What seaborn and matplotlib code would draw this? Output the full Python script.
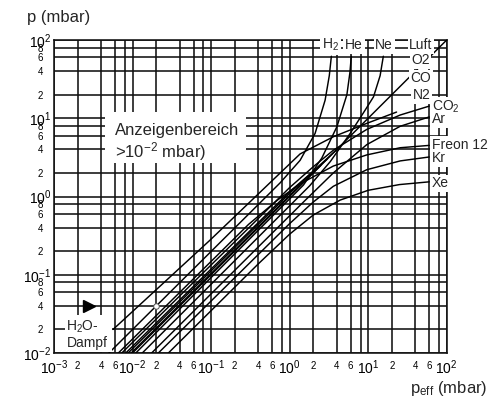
import matplotlib
matplotlib.use("Agg")
import matplotlib.pyplot as plt
import matplotlib.patches as mpatches
import seaborn as sns
import pandas as pd

# ---------------- data ----------------
h2_x = [0.005, 0.76, 1.36, 2.11, 2.83, 3.2, 3.4]
h2_y = [0.01, 1.5, 2.9, 6.4, 17, 35, 62]
he_x = [0.011, 1.5, 2.57, 4.0, 5.36, 5.85, 6.1]
he_y = [0.01, 1.4, 3.1, 7.8, 20, 38, 62]
ne_x = [0.0133, 1.8, 3.3, 5.9, 9.2, 11.7, 14.2, 15.6]
ne_y = [0.01, 1.37, 2.8, 6.4, 12.8, 18.8, 35, 62]
luft_x = [0.01, 100]
luft_y = [0.01, 100]
o2_x = [0.0088, 1.0, 4.0]
o2_y = [0.01, 1.1, 4.0]
co_x = [0.0082, 1.0, 3.0]
co_y = [0.01, 1.15, 3.0]
n2_x = [0.0096, 1.0, 2.5]
n2_y = [0.01, 1.03, 2.5]
co2_x = [0.0073, 1.0, 2.0, 3.6, 9.6, 25.6, 60]
co2_y = [0.01, 1.3, 2.4, 3.9, 7.2, 11, 14.3]
ar_x = [0.0175, 1.5, 3.6, 9.6, 25.6, 60]
ar_y = [0.01, 0.85, 2.0, 4.6, 7.9, 10.4]
freon_x = [0.0066, 0.3, 0.7, 1.36, 3.6, 9.6, 25.6, 60]
freon_y = [0.01, 0.44, 0.9, 1.45, 2.45, 3.4, 4.2, 4.5]
kr_x = [0.0213, 1.0, 2.0, 3.6, 9.6, 25.6, 60]
kr_y = [0.01, 0.45, 0.85, 1.35, 2.2, 2.85, 3.2]
xe_x = [0.0286, 0.4, 1.0, 2.0, 4.4, 10, 25, 60]
xe_y = [0.01, 0.138, 0.33, 0.58, 0.9, 1.2, 1.42, 1.54]
h2o_x = [0.00565, 0.097, 1.36, 3.6, 9.6, 23]
h2o_y = [0.02, 0.277, 3.5, 5.8, 8.6, 12]

marker_x = [2.8e-3]
marker_y = [4e-2]
circle_x = [2e-2]
circle_y = [4e-2]

x_major = [1e-3, 1e-2, 1e-1, 1e0, 1e1, 1e2]
x_major_labels = [r'$10^{-3}$', r'$10^{-2}$', r'$10^{-1}$', r'$10^{0}$', r'$10^{1}$', r'$10^{2}$']
y_major = [1e-2, 1e-1, 1e0, 1e1, 1e2]
y_major_labels = [r'$10^{-2}$', r'$10^{-1}$', r'$10^{0}$', r'$10^{1}$', r'$10^{2}$']
minor_mult = [2, 4, 6, 8]
x_minor_text = ['2', '4', '6', '']
y_minor_text = ['2', '4', '6', '8']

gas_curves = {
    'H2': (h2_x, h2_y), 'He': (he_x, he_y), 'Ne': (ne_x, ne_y),
    'Luft': (luft_x, luft_y), 'O2': (o2_x, o2_y), 'CO': (co_x, co_y),
    'N2': (n2_x, n2_y), 'CO2': (co2_x, co2_y), 'Ar': (ar_x, ar_y),
    'Freon 12': (freon_x, freon_y), 'Kr': (kr_x, kr_y), 'Xe': (xe_x, xe_y),
    'H2O': (h2o_x, h2o_y),
}

# label texts and anchor positions (data coords, left-center)
label_text = [r'H$_2$', 'He', 'Ne', 'Luft', 'O2', 'CO', 'N2', r'CO$_2$', 'Ar', 'Freon 12', 'Kr', 'Xe']
label_x = [2.57, 5.09, 12.3, 33.3, 35.3, 34.3, 37.1, 64.7, 64.7, 64.7, 64.7, 64.7]
label_y = [85.9, 85.9, 85.9, 85.9, 55.2, 32.5, 19.7, 13.9, 9.74, 4.53, 3.09, 1.48]

# ---------------- styling ----------------
sns.set_style('white')
plt.rcParams['font.family'] = ['Liberation Sans', 'DejaVu Sans']
plt.rcParams['mathtext.default'] = 'regular'

W, H = 494, 405
fig = plt.figure(figsize=(W / 100, H / 100), dpi=100)
L, R, T, B = 54, 446.7, 40, 353
ax = fig.add_axes([L / W, 1 - B / H, (R - L) / W, (B - T) / H])
ax.set_xscale('log')
ax.set_yscale('log')

rows = []
for gas, (xs, ys) in gas_curves.items():
    for xv, yv in zip(xs, ys):
        rows.append({'gas': gas, 'p_eff': xv, 'p': yv})
df = pd.DataFrame(rows)

sns.lineplot(data=df, x='p_eff', y='p', units='gas', estimator=None, sort=False,
             color='black', linewidth=1.05, ax=ax, legend=False, zorder=3)

ax.plot(marker_x, marker_y, marker='>', ms=9, color='black', ls='none', zorder=4)
ax.plot(circle_x, circle_y, marker='o', ms=4, mfc='white', mec='#555555', mew=0.7,
        ls='none', zorder=5)

ax.set_xlim(1e-3, 1e2)
ax.set_ylim(1e-2, 1e2)

ax.set_xticks(x_major, labels=x_major_labels)
ax.set_yticks(y_major, labels=y_major_labels)
xm = [m * d for d in x_major[:-1] for m in minor_mult]
xml = [t for d in x_major[:-1] for t in x_minor_text]
ym = [m * d for d in y_major[:-1] for m in minor_mult]
yml = [t for d in y_major[:-1] for t in y_minor_text]
ax.set_xticks(xm, labels=xml, minor=True)
ax.set_yticks(ym, labels=yml, minor=True)

ax.tick_params(which='both', length=0, colors='black')
ax.tick_params(axis='x', which='major', labelsize=10, pad=4)
ax.tick_params(axis='x', which='minor', labelsize=7, pad=5.5)
ax.tick_params(axis='y', which='major', labelsize=10, pad=2)
ax.tick_params(axis='y', which='minor', labelsize=7, pad=8)

ax.grid(which='both', color='#111111', linewidth=1.15)
for s in ax.spines.values():
    s.set_color('#111111')
    s.set_linewidth(1.15)
ax.set_xlabel('')
ax.set_ylabel('')

for t, xv, yv in zip(label_text, label_x, label_y):
    ax.text(xv, yv, t, ha='left', va='center', fontsize=10, zorder=6, clip_on=False,
            bbox=dict(facecolor='white', edgecolor='none', boxstyle='square,pad=0.12'))

# white boxes for the annotations
def px_rect(x0, y0, x1, y1):
    r = mpatches.Rectangle((x0 / W, 1 - y1 / H), (x1 - x0) / W, (y1 - y0) / H,
                           transform=fig.transFigure, facecolor='white',
                           edgecolor='none', zorder=1)
    fig.add_artist(r)

px_rect(105, 112, 246, 163)
px_rect(65, 315, 112, 351.5)

fig.text(115 / W, 1 - 130 / H, 'Anzeigenbereich', fontsize=12, va='center', ha='left', zorder=5)
fig.text(115 / W, 1 - 151.7 / H, r'>10$^{-2}$ mbar)', fontsize=12, va='center', ha='left', zorder=5)
fig.text(66.5 / W, 1 - 326.7 / H, r'H$_2$O-', fontsize=10, va='center', ha='left', zorder=5)
fig.text(66.5 / W, 1 - 343 / H, 'Dampf', fontsize=10, va='center', ha='left', zorder=5)

fig.text(27 / W, 1 - 17.5 / H, 'p (mbar)', fontsize=12, va='center', ha='left')
fig.text(487 / W, 1 - 388 / H, r'p$_{eff}$ (mbar)', fontsize=12, va='center', ha='right')

fig.savefig('out.png', dpi=100)
